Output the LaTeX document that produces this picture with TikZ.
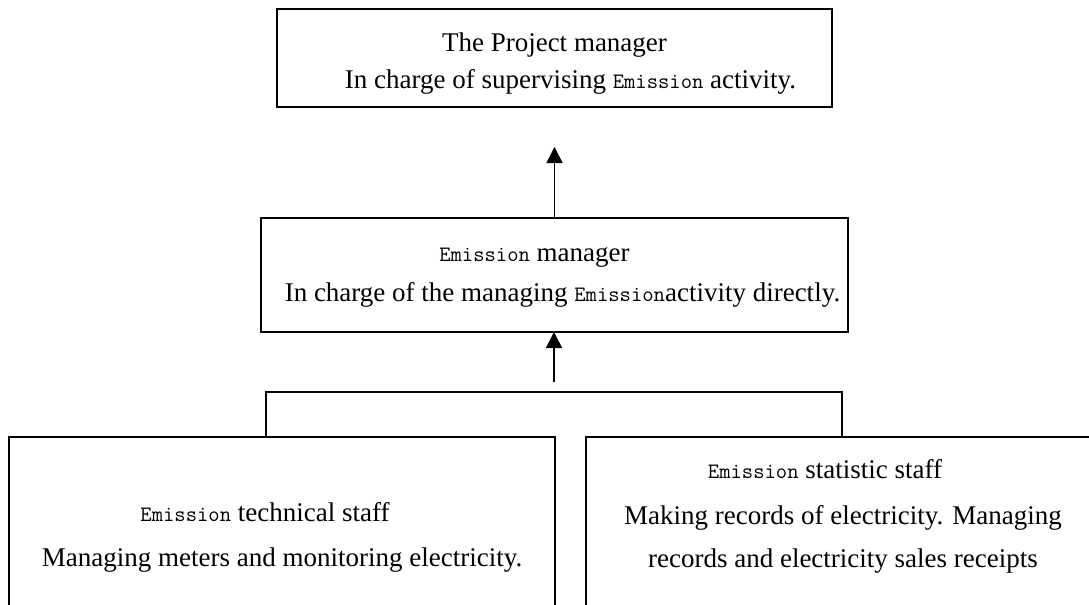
\documentclass[tikz,border=0pt]{standalone}
\usepackage{fontspec}
\setmainfont{Liberation Serif}
\usepackage{tikz}
\usetikzlibrary{arrows.meta, positioning, calc}
\newcommand{\emission}{{\ttfamily\fontsize{11}{13}\selectfont Emission}}

\begin{document}
\begin{tikzpicture}[x=0.5pt, y=-0.5pt, >={Triangle[length=8pt,width=8pt]}, every node/.style={font=\fontsize{13.5}{17.5}\selectfont}]
            % box and connector styles
            \tikzset{
                box/.style={rectangle, draw, line width=1.2pt, inner sep=0pt, outer sep=0pt, align=center},
                link/.style={line width=0.8pt}
            }
            \clip (0,0) rectangle (1089,605);
            % boxes (struts in first/last lines set the text height inside the box)
            \node[box, anchor=north west, minimum width=277.5pt, minimum height=49pt] (pm) at (277,9)
                {\rule{0pt}{15.4pt}The Project manager\\[1pt] \hspace*{16pt}In charge of supervising \emission{} activity.};
            \node[box, below=55.5pt of pm, minimum width=293.5pt, minimum height=57pt] (em)
                {\rule{0pt}{9pt}\emission{} manager\hspace*{20pt}\\[2.5pt] \hspace*{8pt}In charge of the managing \emission{}activity directly.};
            \node[box, anchor=north west, minimum width=273pt, minimum height=100pt] (tech) at (9,437)
                {\emission{} technical staff\hspace*{17pt}\\[5pt] Managing meters and monitoring electricity.};
            \node[box, right=15.5pt of tech, minimum width=257pt, minimum height=100pt] (stat)
                {\emission{} statistic staff\hspace*{18pt}\\[5.5pt] Making records of electricity. Managing\\[4pt] records and electricity sales receipts\rule[-23.7pt]{0pt}{23.7pt}};
            % free ends of the arrows and the branch line
            \coordinate (up) at (554,147);
            \coordinate (feed) at (554,382);
            \coordinate (busL) at (266,392);
            \coordinate (busR) at (842,392);
            % connectors
            \draw[link, ->] (em.north) -- (em.north |- up);
            \draw[link, ->] (feed) -- (feed |- em.south);
            \draw[link] (tech.north -| busL) -- (busL) -- (busR) -- (stat.north -| busR);
        \end{tikzpicture}
\end{document}
